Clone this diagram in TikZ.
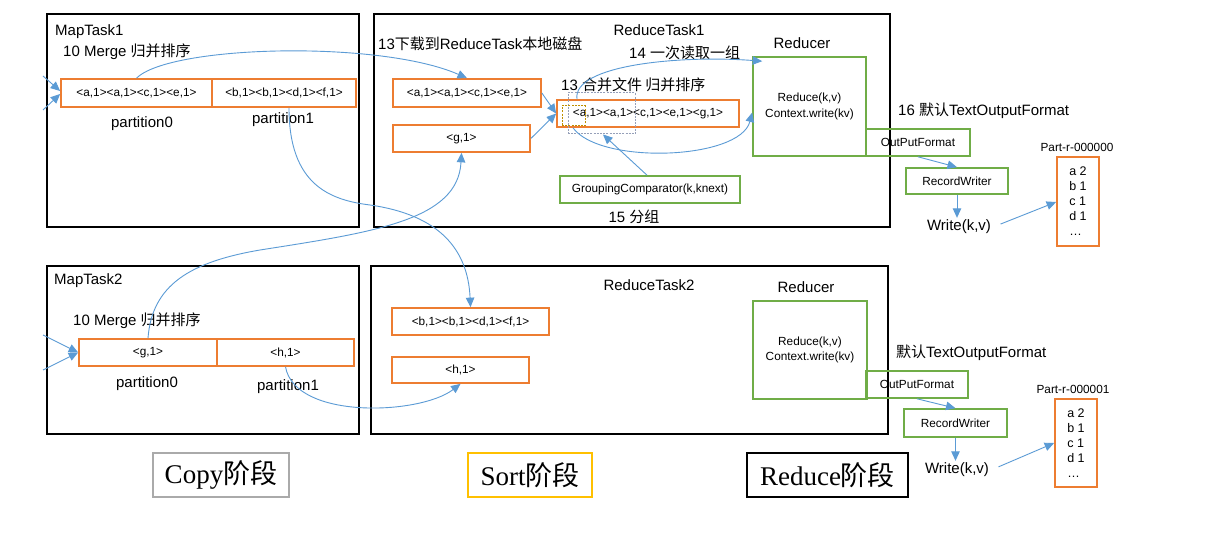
\documentclass[tikz,border=0pt]{standalone}
\usepackage{fontspec}
\setmainfont{Liberation Sans}
\newfontfamily\cjk{Noto Sans CJK SC}
\newfontfamily\tnr{Liberation Serif}
\usetikzlibrary{arrows.meta}
\definecolor{obc}{RGB}{237,125,49}
\definecolor{gbc}{RGB}{112,173,71}
\definecolor{blc}{RGB}{91,155,213}
\definecolor{ybc}{RGB}{255,192,0}
\definecolor{grc}{RGB}{170,170,170}
\definecolor{dgc}{RGB}{150,160,185}
\definecolor{doc}{RGB}{191,144,0}
\begin{document}
\begin{tikzpicture}[x=1pt,y=-1pt,
  big/.style={font=\fontsize{15}{18}\selectfont},
  sm/.style={font=\fontsize{11.8}{14}\selectfont},
  lbl/.style={inner sep=0pt, big},
  frame/.style={draw=black, line width=1.3pt, inner sep=0pt},
  obox/.style={draw=obc, line width=1.7pt, inner sep=0pt, sm},
  gbox/.style={draw=gbc, line width=1.6pt, inner sep=0pt, sm},
  conn/.style={draw=blc, line width=0.9pt, -{Triangle[length=9.5pt,width=8.5pt]}},
  stage/.style={line width=1.4pt, inner sep=0pt, font=\fontsize{27}{30}\selectfont\tnr},
]
\fill[white] (0,0) rectangle (1227,553);
\useasboundingbox (0,0) rectangle (1227,553);

% ---------- MapTask1 ----------
\node[frame, minimum width=312, minimum height=213] (m1) at (203,120.5) {};
\node[lbl, anchor=west] (t1) at (55,32) {MapTask1};
\node[lbl, anchor=west] (mg1) at (63,52) {10 Merge {\cjk 归并排序}};
\node[obox, minimum width=151, minimum height=28] (m1p0) at (136.5,93) {<a,1><a,1><c,1><e,1>};
\node[obox, minimum width=144, minimum height=28] (m1p1) at (284,93) {<b,1><b,1><d,1><f,1>};
\node[lbl] (pl0) at (142,124) {partition0};
\node[lbl] (pl1) at (283,120) {partition1};

% ---------- MapTask2 ----------
\node[frame, minimum width=312, minimum height=168] (m2) at (203,350) {};
\node[lbl, anchor=west] (t2) at (54,281) {MapTask2};
\node[lbl, anchor=west] (mg2) at (73,321) {10 Merge {\cjk 归并排序}};
\node[obox, minimum width=138, minimum height=27] (m2p0) at (148,352.5) {<g,1>};
\node[obox, minimum width=137, minimum height=27] (m2p1) at (285.5,352.5) {<h,1>};
\node[lbl] (pl2) at (147,384) {partition0};
\node[lbl] (pl3) at (288,387) {partition1};

% ---------- ReduceTask1 ----------
\node[frame, minimum width=516, minimum height=213] (r1) at (632,120.5) {};
\node[lbl] (rt1) at (659,30) {ReduceTask1};
\node[lbl] (rr1) at (802,43) {Reducer};
\node[lbl, anchor=west] (s13a) at (378,44) {13{\cjk 下载到}ReduceTask{\cjk 本地磁盘}};
\node[lbl, anchor=west] (s14) at (629,53) {14 {\cjk 一次读取一组}};
\node[lbl, anchor=west] (s13b) at (561,85) {13 {\cjk 合并文件 归并排序}};
\node[lbl] (s15) at (634,217) {15 {\cjk 分组}};
\node[obox, minimum width=148, minimum height=28] (ra) at (467,93) {<a,1><a,1><c,1><e,1>};
\node[obox, minimum width=137, minimum height=27] (rg) at (461.5,138.5) {<g,1>};
\node[obox, minimum width=182, minimum height=27] (rm) at (648,113.5) {<a,1><a,1><c,1><e,1><g,1>};
\node[draw=dgc, dash pattern=on 2pt off 1.2pt, line width=1pt, minimum width=67, minimum height=41, inner sep=0pt] (dgb) at (601.5,113.5) {};
\node[draw=doc, dash pattern=on 2pt off 1.2pt, line width=1pt, minimum width=23, minimum height=20, inner sep=0pt] (dob) at (573.5,116) {};
\node[gbox, minimum width=180, minimum height=27] (gc) at (650,189.5) {GroupingComparator(k,knext)};
\node[gbox, minimum width=113, minimum height=99, align=center, font=\fontsize{11.8}{15.5}\selectfont] (red1) at (809.5,106.5) {Reduce(k,v)\\Context.write(kv)};
\node[gbox, minimum width=104, minimum height=27] (opf1) at (918,142.5) {OutPutFormat};
\node[lbl, anchor=west] (s16) at (898,111) {16 {\cjk 默认}TextOutputFormat};
\node[gbox, minimum width=102, minimum height=26] (rw1) at (957,181) {RecordWriter};
\node[lbl, inner sep=2pt] (wk1) at (959,227) {Write(k,v)};
\node[sm, inner sep=0pt] (pr1) at (1077,147) {Part-r-000000};
\node[obox, minimum width=42, minimum height=89, align=left, font=\fontsize{12.5}{15}\selectfont] (f1) at (1078,201.5) {a 2\\b 1\\c 1\\d 1\\…};

% ---------- ReduceTask2 ----------
\node[frame, minimum width=517, minimum height=168] (r2) at (629.5,350) {};
\node[lbl] (rt2) at (649,285) {ReduceTask2};
\node[lbl] (rr2) at (806,287) {Reducer};
\node[obox, minimum width=157, minimum height=27] (rb) at (470.5,321.5) {<b,1><b,1><d,1><f,1>};
\node[obox, minimum width=137, minimum height=26] (rh) at (460.5,370) {<h,1>};
\node[gbox, minimum width=114, minimum height=98, align=center, font=\fontsize{11.8}{15.5}\selectfont] (red2) at (810,350) {Reduce(k,v)\\Context.write(kv)};
\node[gbox, minimum width=102, minimum height=27] (opf2) at (917,384.5) {OutPutFormat};
\node[lbl, anchor=west] (s16b) at (896,353) {{\cjk 默认}TextOutputFormat};
\node[gbox, minimum width=103, minimum height=28] (rw2) at (955.5,423) {RecordWriter};
\node[lbl, inner sep=2pt] (wk2) at (957,470) {Write(k,v)};
\node[sm, inner sep=0pt] (pr2) at (1073,389) {Part-r-000001};
\node[obox, minimum width=42, minimum height=88, align=left, font=\fontsize{12.5}{15}\selectfont] (f2) at (1076,443) {a 2\\b 1\\c 1\\d 1\\…};

% ---------- stages ----------
\node[stage, draw=grc, minimum width=136, minimum height=44] (cp) at (221,475) {Copy{\cjk 阶段}};
\node[stage, draw=ybc, minimum width=124, minimum height=44] (st) at (530,475) {Sort{\cjk 阶段}};
\node[stage, draw=black, minimum width=161, minimum height=44] (rd) at (827.5,475) {Reduce{\cjk 阶段}};

% ---------- connectors ----------
\coordinate (in1a) at (43,76);
\coordinate (in1b) at (43,110);
\coordinate (in2a) at (43,335);
\coordinate (in2b) at (43,370);
\draw[conn] (in1a) -- ([yshift=2pt]m1p0.west);
\draw[conn] (in1b) -- ([yshift=-1pt]m1p0.west);
\draw[conn] (in2a) -- (m2p0.west);
\draw[conn] (in2b) -- (m2p0.west);

\draw[conn] (m1p0.north) .. controls (170,45) and (380,40) .. (ra.north);
\draw[conn] ([xshift=5pt]m1p1.south) .. controls (289,185) and (330,200) .. (370,205) .. controls (440,215) and (468,250) .. (rb.north);
\draw[conn] (m2p0.north) .. controls (152,285) and (190,262) .. (260,250) .. controls (375,232) and (458,220) .. (rg.south);
\draw[conn] (m2p1.south) .. controls (295,420) and (420,415) .. (rh.south);

\draw[conn] (ra.east) -- (rm.west);
\draw[conn] (rg.east) -- (rm.west);
\draw[conn] ([xshift=-71pt]rm.north) .. controls (572,65) and (680,55) .. ([xshift=10pt,yshift=-5pt]red1.north west);
\draw[conn] ([xshift=-75pt]rm.south) .. controls (600,165) and (740,160) .. ([yshift=-6pt]red1.west);
\draw[conn] ([xshift=-3pt]gc.north) -- ([xshift=1.5pt]dgb.south);

\draw[conn] (opf1.south) -- (rw1.north);
\draw[conn] (rw1.south) -- (rw1.south |- wk1.north);
\draw[conn, shorten <=8pt] (wk1.east) -- ([yshift=-0.5pt]f1.west);

\draw[conn] (opf2.south) -- (rw2.north);
\draw[conn] (rw2.south) -- (rw2.south |- wk2.north);
\draw[conn, shorten <=8pt] (wk2.east) -- (f2.west);
\end{tikzpicture}
\end{document}
